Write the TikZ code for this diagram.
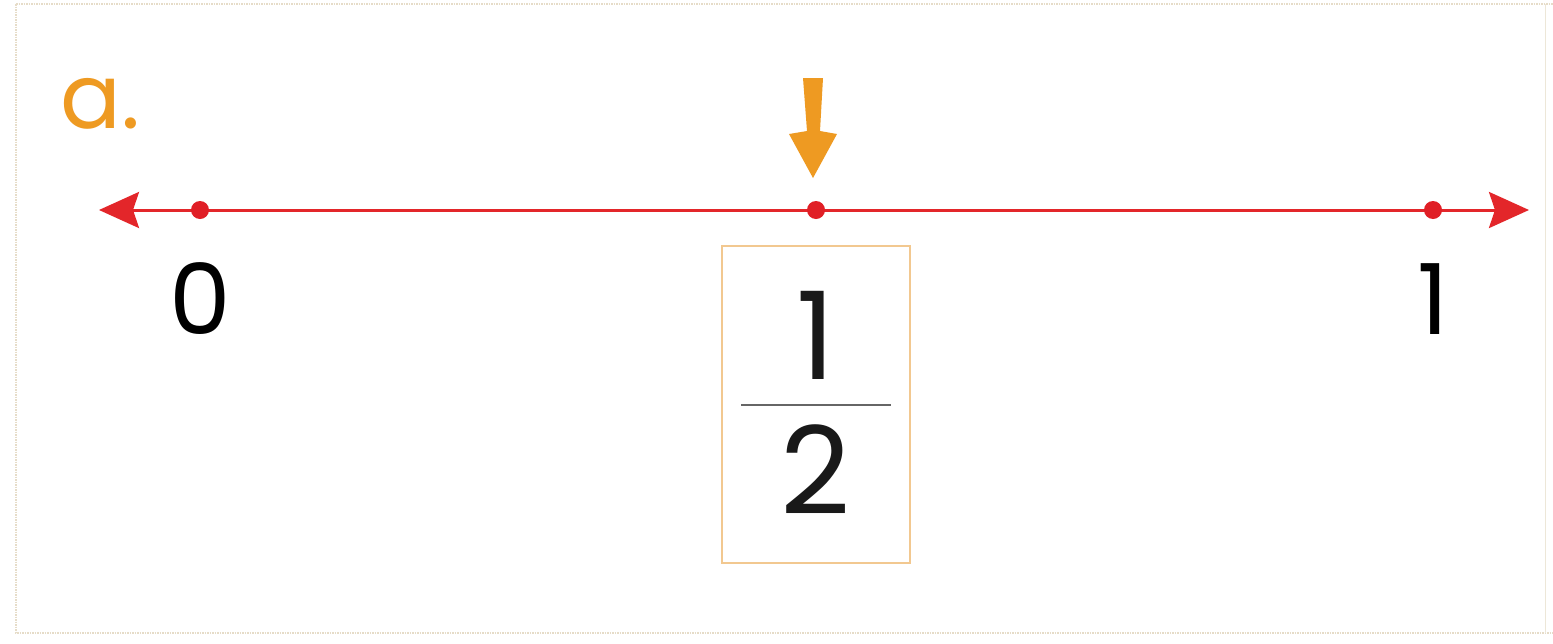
\documentclass[tikz,border=0pt]{standalone}
\usepackage{fontspec}
\setmainfont{Poppins}
\usetikzlibrary{arrows.meta}
\definecolor{linered}{HTML}{E3262A}
\definecolor{dotred}{HTML}{E01F26}
\definecolor{orangeA}{HTML}{EE9A22}
\definecolor{boxorange}{HTML}{F2C890}
\definecolor{frameline}{HTML}{E6DCC8}
\tikzset{
  dotnode/.style={circle,fill=dotred,inner sep=0pt,minimum size=18pt},
  numlabel/.style={font=\fontsize{98}{100}\selectfont,text=black,inner sep=0pt},
  fracnum/.style={font=\fontsize{122}{124}\selectfont,text=black!90,inner sep=0pt},
  answerbox/.style={draw=boxorange,line width=2.2pt,minimum width=188pt,minimum height=317pt,inner sep=0pt},
  redtip/.tip={Stealth[length=40pt,width=36pt,inset=6pt]}
}
\begin{document}
\begin{tikzpicture}[x=1pt,y=-1pt]
\useasboundingbox (0,0) rectangle (1553,643);
\fill[white] (0,0) rectangle (1553,643);
\draw[frameline,line width=1.5pt,densely dotted] (16,4) -- (1553,4);
\draw[frameline,line width=1.5pt,densely dotted] (16,4) -- (16,633) -- (1553,633);
\draw[frameline!70,line width=1pt] (1545,4) -- (1545,633);
% label
\node[text=orangeA,font=\fontsize{90}{92}\selectfont,inner sep=0pt,anchor=base west] (lab) at (60,128) {a.};
% number line
\coordinate (L) at (99,210);
\coordinate (R) at (1529,210);
\draw[linered,line width=3pt,redtip-redtip] (L) -- (R);
\node[dotnode] (p0) at (200,210) {};
\node[dotnode] (ph) at (816,210) {};
\node[dotnode] (p1) at (1433,210) {};
\node[numlabel,anchor=base] (n0) at (200,334) {0};
\node[numlabel,anchor=base] (n1) at (1433,334) {1};
% answer box
\node[answerbox] (box) at (816,404.5) {};
\node[fracnum,anchor=base] (num) at (816,379) {1};
\node[fracnum,anchor=base] (den) at (816,514) {2};
\draw[black!60,line width=2pt] (741,405) -- (891,405);
% orange arrow
\fill[orangeA] (803,78) -- (823,78) -- (820,131) -- (837,134) -- (813,178) -- (789,134) -- (807,131) -- cycle;
\end{tikzpicture}
\end{document}
